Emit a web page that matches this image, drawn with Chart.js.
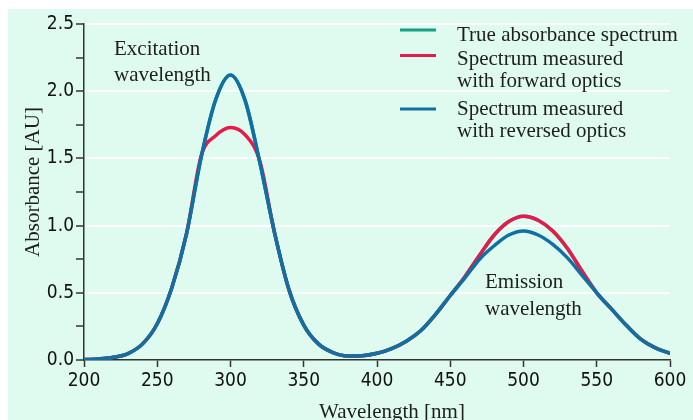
<!DOCTYPE html>
<html>
<head>
<meta charset="utf-8">
<script src="https://cdn.jsdelivr.net/npm/chart.js@4.4.1/dist/chart.umd.min.js"></script>
<style>
  html, body { margin: 0; padding: 0; background: #fff; }
  #wrap { width: 693px; height: 420px; position: relative; }
</style>
</head>
<body>
<div id="wrap"><canvas id="specChart" width="693" height="420"></canvas></div>
<script>
// wavelengths in nm
const wavelengths = [200, 210, 220, 230, 240, 250, 260, 270, 280, 290,
  300, 310, 320, 330, 340, 350, 360, 370, 380, 390,
  400, 410, 420, 430, 440, 450, 460, 470, 480, 490,
  500, 510, 520, 530, 540, 550, 560, 570, 580, 590, 600];

// absorbance
const trueSpectrum = [0.003, 0.008, 0.02, 0.048, 0.12, 0.27, 0.54, 0.94, 1.51, 1.94,
  2.12, 1.93, 1.47, 0.95, 0.52, 0.26, 0.12, 0.055, 0.03, 0.032,
  0.05, 0.085, 0.14, 0.22, 0.34, 0.48, 0.62, 0.78, 0.93, 1.03,
  1.07, 1.04, 0.96, 0.83, 0.66, 0.50, 0.38, 0.26, 0.155, 0.09, 0.05];

const forwardSpectrum = [0.003, 0.008, 0.02, 0.048, 0.12, 0.27, 0.54, 0.94, 1.52, 1.67,
  1.73, 1.675, 1.48, 0.95, 0.52, 0.26, 0.12, 0.055, 0.03, 0.032,
  0.05, 0.085, 0.14, 0.22, 0.34, 0.48, 0.62, 0.78, 0.93, 1.03,
  1.07, 1.04, 0.96, 0.83, 0.66, 0.50, 0.38, 0.26, 0.155, 0.09, 0.05];

const reversedSpectrum = [0.003, 0.008, 0.02, 0.048, 0.12, 0.27, 0.54, 0.94, 1.51, 1.94,
  2.12, 1.93, 1.47, 0.95, 0.52, 0.26, 0.12, 0.055, 0.03, 0.032,
  0.05, 0.085, 0.14, 0.22, 0.34, 0.48, 0.61, 0.75, 0.85, 0.93,
  0.96, 0.93, 0.86, 0.76, 0.63, 0.50, 0.38, 0.26, 0.155, 0.09, 0.05];

const seriesNames = ["True absorbance spectrum",
  ["Spectrum measured", "with forward optics"],
  ["Spectrum measured", "with reversed optics"]];
const seriesColors = ["#14a083", "#e8194b", "#106fa3"];

const xTitle = "Wavelength [nm]";
const yTitle = "Absorbance [AU]";
const noteExcitation = ["Excitation", "wavelength"];
const noteEmission = ["Emission", "wavelength"];

const serif = "'Liberation Serif', 'Times New Roman', serif";
const narrow = "'DejaVu Sans Condensed', 'Liberation Sans Narrow', sans-serif";

function pts(ys) {
  return wavelengths.map((x, i) => ({ x: x, y: ys[i] }));
}

// background panel, axis titles, legend and notes
const decor = {
  id: 'decor',
  beforeDraw(chart) {
    const c = chart.ctx;
    c.save();
    c.fillStyle = '#dffbef';
    c.fillRect(8, 9, 685, 411);
    c.restore();
  },
  afterDraw(chart) {
    const c = chart.ctx;
    c.save();
    c.fillStyle = '#1e1e1e';
    c.font = '21px ' + serif;
    c.textBaseline = 'alphabetic';

    // axis titles
    c.textAlign = 'center';
    c.fillText(xTitle, 392, 418);
    c.save();
    c.translate(39, 182);
    c.rotate(-Math.PI / 2);
    c.fillText(yTitle, 0, 0);
    c.restore();

    // notes
    c.textAlign = 'left';
    c.fillText(noteExcitation[0], 114, 55);
    c.fillText(noteExcitation[1], 114, 81);
    c.fillText(noteEmission[0], 485, 288);
    c.fillText(noteEmission[1], 485, 315);

    // legend
    const rows = [[40.5], [65, 87], [115, 137]];
    const lineY = [30, 55.5, 109];
    seriesNames.forEach((name, i) => {
      c.strokeStyle = seriesColors[i];
      c.lineWidth = 3;
      c.beginPath();
      c.moveTo(400, lineY[i]);
      c.lineTo(436, lineY[i]);
      c.stroke();
      const lines = Array.isArray(name) ? name : [name];
      lines.forEach((t, j) => c.fillText(t, 457, rows[i][j]));
    });
    c.restore();
  }
};

new Chart(document.getElementById('specChart').getContext('2d'), {
  type: 'line',
  data: {
    datasets: [
      { label: 'True absorbance spectrum', data: pts(trueSpectrum), borderColor: seriesColors[0], order: 3 },
      { label: 'Spectrum measured with forward optics', data: pts(forwardSpectrum), borderColor: seriesColors[1], order: 2 },
      { label: 'Spectrum measured with reversed optics', data: pts(reversedSpectrum), borderColor: seriesColors[2], order: 1 }
    ]
  },
  options: {
    responsive: false,
    animation: false,
    devicePixelRatio: 1,
    layout: { padding: { left: 0, right: 23, top: 24, bottom: 0 } },
    elements: {
      point: { radius: 0 },
      line: { borderWidth: 3.5, cubicInterpolationMode: 'monotone', fill: false }
    },
    plugins: { legend: { display: false }, tooltip: { enabled: false } },
    scales: {
      x: {
        type: 'linear', min: 200, max: 600,
        afterFit(s) { s.height = 60; },
        grid: { display: true, drawOnChartArea: false, drawTicks: true, tickLength: 7, tickColor: '#333', tickWidth: 1.5 },
        border: { display: true, color: '#333', width: 1.5 },
        ticks: { stepSize: 50, color: '#111', padding: 3, maxRotation: 0, font: { family: narrow, size: 19 } }
      },
      y: {
        min: 0, max: 2.5,
        afterFit(s) { s.width = 84; },
        grid: {
          color: ctx => (Math.round(ctx.tick.value * 100) % 50 === 0 && ctx.tick.value > 0) ? '#ffffff' : 'rgba(0,0,0,0)',
          lineWidth: 2,
          tickLength: 8, tickColor: '#333', tickWidth: 1.5
        },
        border: { display: true, color: '#333', width: 1.5 },
        ticks: {
          stepSize: 0.25, color: '#111', padding: 2, font: { family: narrow, size: 19 },
          callback: v => (Math.round(v * 100) % 50 === 0) ? v.toFixed(1) : ''
        }
      }
    }
  },
  plugins: [decor]
});
</script>
</body>
</html>
